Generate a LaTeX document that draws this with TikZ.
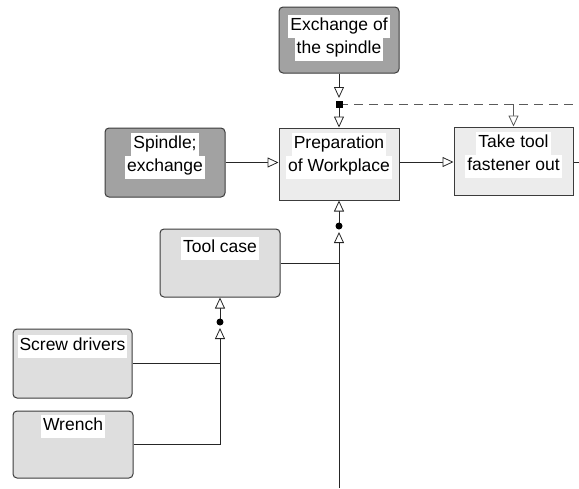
\documentclass[tikz,border=0pt]{standalone}
\usepackage{fontspec}
\setmainfont{Liberation Sans}
\usetikzlibrary{arrows.meta}
\usetikzlibrary{positioning}

\definecolor{darkfill}{RGB}{162,162,162}
\definecolor{lightfill}{RGB}{236,236,236}
\definecolor{casefill}{RGB}{222,222,222}
\definecolor{edgegray}{RGB}{60,60,60}
\definecolor{dashgray}{RGB}{90,90,90}

\setlength{\fboxsep}{0pt}
\newcommand{\hl}[1]{\colorbox{white}{\kern2pt\strut#1\kern2pt}}

\begin{document}
\begin{tikzpicture}[x=1pt, y=-1pt,
    box/.style={draw=edgegray, line width=1pt, minimum width=120pt, inner sep=0pt},
    darkbox/.style={box, fill=darkfill, rounded corners=4pt},
    actbox/.style={box, fill=lightfill},
    thingbox/.style={box, fill=casefill, rounded corners=4pt},
    boxtext/.style={align=center, inner sep=0pt, anchor=north, font=\fontsize{17.5}{23}\selectfont},
    link/.style={line width=0.8pt, draw=black!85},
    flow/.style={link, -{Triangle[length=11pt, width=10pt, fill=white]}}]
    \useasboundingbox (0,0) rectangle (579,488);

    % boxes
    \node[darkbox, minimum height=66pt] (xchg) at (339,40) {};
    \node[actbox, minimum height=72pt] (prep) at (339,164) {};
    \node[actbox, minimum width=119pt, minimum height=68pt] (take) at (513.5,161) {};
    \node[darkbox, minimum height=69pt] (spind) at (165,162.5) {};
    \node[thingbox, minimum height=68pt] (tcase) at (220,263) {};
    \node[thingbox, minimum width=119pt, minimum height=69pt] (screw) at (72.5,363.5) {};
    \node[thingbox, minimum height=67pt] (wrench) at (73,444.5) {};

    % texts
    \node[boxtext] (xchgtext) at ([yshift=-8pt]xchg.north) {\hl{Exchange of}\\\hl{the spindle}};
    \node[boxtext] (preptext) at ([yshift=-5pt]prep.north) {\hl{Preparation}\\\hl{of Workplace}};
    \node[boxtext] (taketext) at ([yshift=-5pt]take.north) {\hl{Take tool}\\\hl{fastener out}};
    \node[boxtext] (spindtext) at ([yshift=-5pt]spind.north) {\hl{Spindle;}\\\hl{exchange}};
    \node[boxtext] (tcasetext) at ([yshift=-8pt]tcase.north) {\hl{Tool case}};
    \node[boxtext] (screwtext) at ([yshift=-6pt]screw.north) {\hl{Screw drivers}};
    \node[boxtext] (wrenchtext) at ([yshift=-4pt]wrench.north) {\hl{Wrench}};

    % junctions and free ends
    \coordinate (j1) at (339,104);
    \coordinate (j2) at (339,226);
    \coordinate (j3) at (220,322);
    \coordinate (dashend) at (579,104);
    \coordinate (rightend) at (579,162);
    \coordinate (bottomend) at (339,488);

    % top
    \draw[flow, shorten >=6pt] (xchg) -- (j1);
    \draw[flow] (j1) -- (prep);
    \draw[link, draw=dashgray, dash pattern=on 9pt off 6pt] (j1) -- (dashend);
    \draw[flow, draw=dashgray] (take.north |- j1) -- (take.north);
    \fill (j1) ++(-3.5,-3.5) rectangle ++(7,7);

    % middle row
    \draw[flow] (spind.east) -- (spind.east -| prep.west);
    \draw[flow] (prep.east |- 0,162) -- (take.west |- 0,162);
    \draw[link] (take.east |- rightend) -- (rightend);

    % below preparation
    \draw[flow] (j2) -- (prep.south);
    \draw[flow, shorten >=6pt] (bottomend) -- (j2);
    \draw[link] (tcase.east) -- (tcase.east -| j2);
    \fill (j2) circle (3.5);

    % tools
    \draw[flow] (j3) -- (tcase.south);
    \draw[flow, shorten >=6pt] (wrench.east) -| (j3);
    \draw[link] (screw.east) -- (screw.east -| j3);
    \fill (j3) circle (3.5);
\end{tikzpicture}
\end{document}
